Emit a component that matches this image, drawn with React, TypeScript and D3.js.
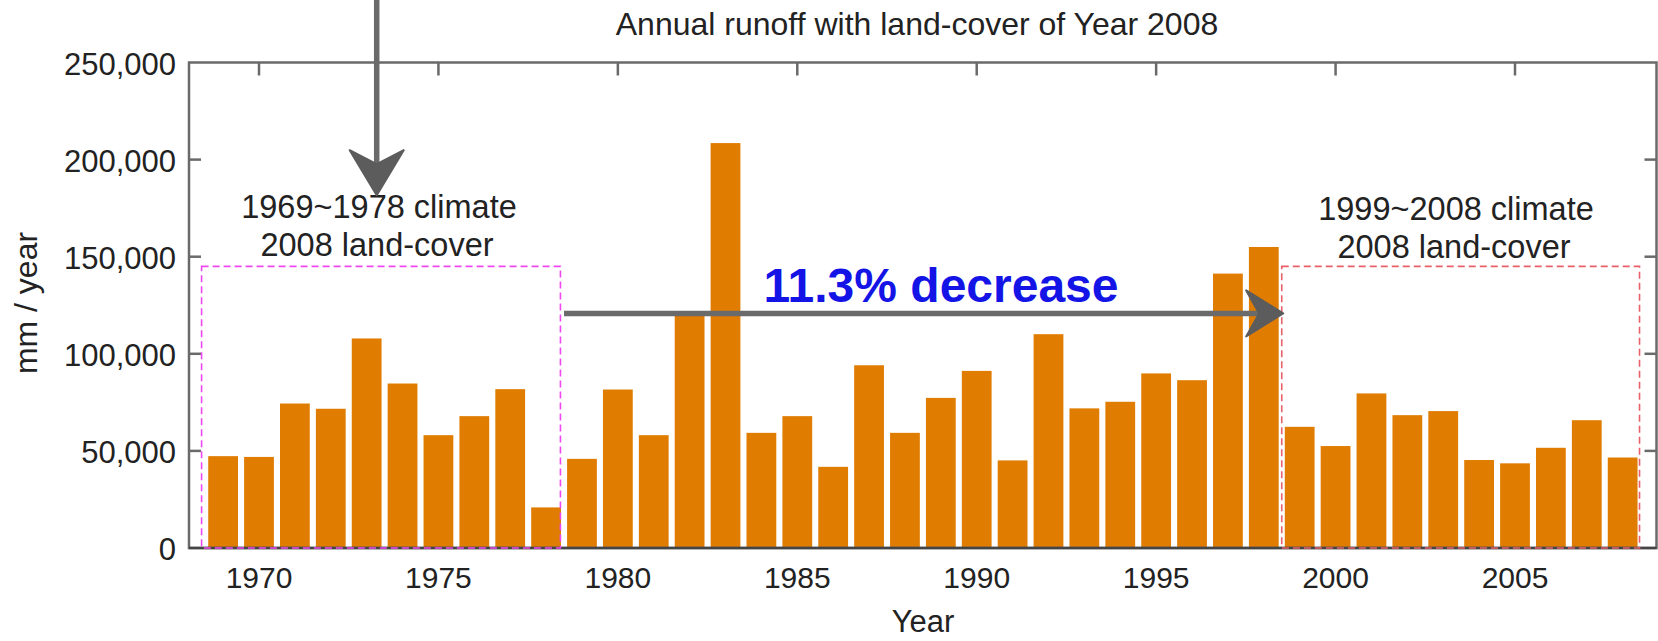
import React from "react";
import * as d3 from "d3";

// Annual runoff (mm / year) simulated with the 2008 land-cover
const years = [
  1969, 1970, 1971, 1972, 1973, 1974, 1975, 1976, 1977, 1978,
  1979, 1980, 1981, 1982, 1983, 1984, 1985, 1986, 1987, 1988,
  1989, 1990, 1991, 1992, 1993, 1994, 1995, 1996, 1997, 1998,
  1999, 2000, 2001, 2002, 2003, 2004, 2005, 2006, 2007, 2008,
];
const runoff = [
  47300, 46900, 74400, 71700, 107900, 84700, 58100, 67900, 81800, 20900,
  45900, 81600, 58100, 121000, 208500, 59300, 67900, 41800, 94100, 59300,
  77300, 91200, 45100, 110100, 71900, 75300, 89900, 86400, 141300, 155000,
  62400, 52500, 79600, 68400, 70500, 45300, 43600, 51600, 65800, 46600,
];
const xTicks = [1970, 1975, 1980, 1985, 1990, 1995, 2000, 2005];
const yTicks = [0, 50000, 100000, 150000, 200000, 250000];

const W = 1658;
const H = 641;
const FONT = "'Liberation Sans', Arial, Helvetica, sans-serif";
const AXIS = "#6a6a6a";
const BAR = "#e07c00";

export default function App() {
  const x = d3.scaleLinear().domain([1970, 2005]).range([259, 1515]);
  const y = d3.scaleLinear().domain([0, 250000]).range([548, 62.5]);
  const step = x(1971) - x(1970);
  const barW = step * 0.83;
  const fmt = d3.format(",");

  const left = 189;
  const right = 1656.5;
  const top = y(250000);
  const bottom = y(0);

  // comparison periods
  const boxTop = y(145000);
  const boxA = [x(1968.4), x(1978.4)];
  const boxB = [x(1998.5), x(2008.47)];

  // arrows
  const ax = x(1973.28);
  const vTip = y(181700);
  const hy = y(120800);
  const hx0 = x(1978.5);
  const hTip = x(1998.54);

  return (
    <svg
      width={W}
      height={H}
      style={{ position: "absolute", left: 0, top: 0, background: "#fff" }}
      fontFamily={FONT}
    >
      <rect x={0} y={0} width={W} height={H} fill="#fff" />

      {/* bars */}
      {years.map((yr, i) => (
        <rect
          key={yr}
          x={x(yr) - barW / 2}
          y={y(runoff[i])}
          width={barW}
          height={bottom - y(runoff[i])}
          fill={BAR}
        />
      ))}

      {/* frame */}
      <rect
        x={left}
        y={top}
        width={right - left}
        height={bottom - top}
        fill="none"
        stroke={AXIS}
        strokeWidth={2.5}
      />
      <line x1={left} x2={right} y1={bottom} y2={bottom} stroke="#444" strokeWidth={2.5} />

      {/* top ticks */}
      {xTicks.map((t) => (
        <line key={t} x1={x(t)} x2={x(t)} y1={top} y2={top + 13} stroke={AXIS} strokeWidth={2.5} />
      ))}
      {/* left / right ticks */}
      {yTicks.slice(1, -1).map((t) => (
        <g key={t}>
          <line x1={left} x2={left + 12} y1={y(t)} y2={y(t)} stroke={AXIS} strokeWidth={2.5} />
          <line x1={right - 12} x2={right} y1={y(t)} y2={y(t)} stroke={AXIS} strokeWidth={2.5} />
        </g>
      ))}

      {/* y tick labels */}
      {yTicks.map((t) => (
        <text
          key={t}
          x={176}
          y={y(t)}
          dy="0.4em"
          textAnchor="end"
          fontSize={31}
          fill="#222"
        >
          {fmt(t)}
        </text>
      ))}

      {/* x tick labels */}
      {xTicks.map((t) => (
        <text key={t} x={x(t)} y={588} textAnchor="middle" fontSize={30} fill="#222">
          {t}
        </text>
      ))}

      {/* axis titles */}
      <text x={923} y={632} textAnchor="middle" fontSize={31} fill="#222">
        Year
      </text>
      <text
        transform={`translate(37,303) rotate(-90)`}
        textAnchor="middle"
        fontSize={32}
        fill="#222"
      >
        mm / year
      </text>
      <text x={917} y={35} textAnchor="middle" fontSize={32} fill="#222">
        Annual runoff with land-cover of Year 2008
      </text>

      {/* dashed period boxes */}
      <rect
        x={boxA[0]}
        y={boxTop}
        width={boxA[1] - boxA[0]}
        height={bottom - boxTop}
        fill="none"
        stroke="#f048f0"
        strokeWidth={1.6}
        strokeDasharray="7 4"
      />
      <rect
        x={boxB[0]}
        y={boxTop}
        width={boxB[1] - boxB[0]}
        height={bottom - boxTop}
        fill="none"
        stroke="#e8606a"
        strokeWidth={1.6}
        strokeDasharray="7 4"
      />

      {/* period labels */}
      <text x={379} y={218} textAnchor="middle" fontSize={32.5} fill="#222">
        1969~1978 climate
      </text>
      <text x={377} y={256} textAnchor="middle" fontSize={32.5} fill="#222">
        2008 land-cover
      </text>
      <text x={1456} y={220} textAnchor="middle" fontSize={32.5} fill="#222">
        1999~2008 climate
      </text>
      <text x={1454} y={258} textAnchor="middle" fontSize={32.5} fill="#222">
        2008 land-cover
      </text>

      {/* vertical arrow */}
      <line x1={ax} x2={ax} y1={0} y2={vTip - 30} stroke="#6a6a6a" strokeWidth={5.5} />
      <path
        d={`M${ax - 27},${vTip - 45} L${ax},${vTip - 31} L${ax + 27},${vTip - 45} L${ax},${vTip} Z`}
        fill="#5c5c5c"
        stroke="#5c5c5c"
        strokeWidth={2}
        strokeLinejoin="round"
      />

      {/* horizontal arrow */}
      <line x1={hx0} x2={hTip - 22} y1={hy} y2={hy} stroke="#6a6a6a" strokeWidth={5.5} />
      <path
        d={`M${hTip - 37},${hy - 23} L${hTip - 24},${hy} L${hTip - 37},${hy + 23} L${hTip},${hy} Z`}
        fill="#5c5c5c"
        stroke="#5c5c5c"
        strokeWidth={2}
        strokeLinejoin="round"
      />

      <text x={941} y={302} textAnchor="middle" fontSize={48} fontWeight="bold" fill="#1414e6">
        11.3% decrease
      </text>
    </svg>
  );
}
